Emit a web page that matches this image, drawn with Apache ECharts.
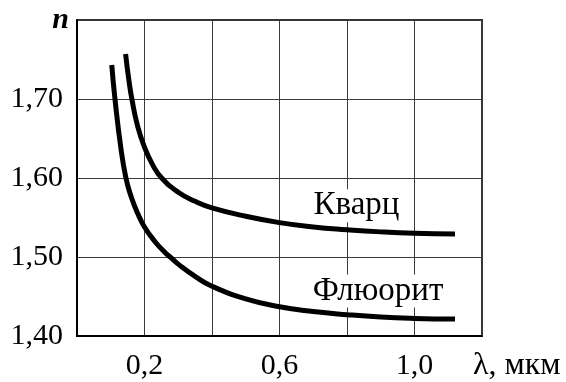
<!DOCTYPE html>
<html>
<head>
<meta charset="utf-8">
<script src="https://cdn.jsdelivr.net/npm/echarts@6/dist/echarts.min.js"></script>
<style>
  html, body { margin: 0; padding: 0; background: #fff; }
  #chart { width: 566px; height: 382px; }
</style>
</head>
<body>
<div id="chart"></div>
<script>
// Кварц
const quartzX = [0.144, 0.153, 0.163, 0.18, 0.2, 0.225, 0.251, 0.3, 0.35, 0.4, 0.5, 0.6, 0.7, 0.8, 0.9, 1.0, 1.12]
const quartzN = [1.757, 1.726, 1.699, 1.665, 1.639, 1.616, 1.600, 1.582, 1.5705, 1.5622, 1.5515, 1.5435, 1.538, 1.5345, 1.5318, 1.530, 1.529]
// Флюорит
const fluoriteX = [0.103, 0.113, 0.13, 0.145, 0.16, 0.18, 0.2, 0.23, 0.26, 0.28, 0.3, 0.35, 0.4, 0.5, 0.6, 0.7, 0.8, 0.9, 1.0, 1.12]
const fluoriteN = [1.743, 1.698, 1.638, 1.600, 1.577, 1.555, 1.538, 1.520, 1.506, 1.4985, 1.491, 1.4755, 1.463, 1.447, 1.437, 1.431, 1.427, 1.424, 1.4223, 1.4214]

const xLabels = [0.2, 0.6, 1.0]
const yLabels = [1.4, 1.5, 1.6, 1.7]
const seriesNames = ['Кварц', 'Флюорит']
const nameCoords = [[0.828, 1.565], [0.892, 1.457]]

const serif = '"Liberation Serif", "DejaVu Serif", serif'
const comma = (v, d) => v.toFixed(d).replace('.', ',')

const pairs = (xs, ys) => xs.map((x, i) => [x, ys[i]])

const chart = echarts.init(document.getElementById('chart'))

const curve = (name, data, coord) => ({
  name,
  type: 'line',
  data,
  smooth: 0.5,
  symbol: 'none',
  lineStyle: { color: '#000', width: 5 },
  z: 3,
  markPoint: {
    symbol: 'circle',
    symbolSize: 0,
    data: [{ coord }],
    label: {
      show: true,
      position: 'inside',
      formatter: name,
      color: '#000',
      fontFamily: serif,
      fontSize: 33,
      backgroundColor: '#fff',
      padding: [0, 3],
    },
  },
})

chart.setOption({
  backgroundColor: '#fff',
  animation: false,
  grid: {
    left: 77,
    top: 20,
    width: 405,
    height: 323,
    show: true,
    borderColor: '#333',
    borderWidth: 2,
    backgroundColor: 'transparent',
  },
  xAxis: {
    type: 'value',
    min: 0,
    max: 1.2,
    interval: 0.2,
    name: 'λ, мкм',
    nameLocation: 'end',
    nameGap: -9,
    nameTextStyle: {
      color: '#000',
      fontFamily: serif,
      fontSize: 32,
      align: 'left',
      verticalAlign: 'top',
      padding: [14, 0, 0, 0],
    },
    axisLine: { show: true, lineStyle: { color: '#000', width: 2 } },
    axisTick: { show: false },
    axisLabel: {
      margin: 15,
      color: '#000',
      fontFamily: serif,
      fontSize: 30,
      formatter: (v) => (xLabels.some((t) => Math.abs(t - v) < 1e-6) ? comma(v, 1) : ''),
    },
    splitLine: { show: true, lineStyle: { color: '#3a3a3a', width: 1 } },
  },
  yAxis: {
    type: 'value',
    min: 1.4,
    max: 1.8,
    interval: 0.1,
    name: 'n',
    nameLocation: 'end',
    nameGap: 0,
    nameTextStyle: {
      color: '#000',
      fontFamily: serif,
      fontSize: 30,
      fontStyle: 'italic',
      fontWeight: 'bold',
      align: 'right',
      verticalAlign: 'middle',
      padding: [0, 8, 6, 0],
    },
    axisLine: { show: true, lineStyle: { color: '#000', width: 2 } },
    axisTick: { show: false },
    axisLabel: {
      margin: 14,
      color: '#000',
      fontFamily: serif,
      fontSize: 30,
      formatter: (v) => (yLabels.some((t) => Math.abs(t - v) < 1e-6) ? comma(v, 2) : ''),
    },
    splitLine: { show: true, lineStyle: { color: '#3a3a3a', width: 1 } },
  },
  series: [
    curve(seriesNames[0], pairs(quartzX, quartzN), nameCoords[0]),
    curve(seriesNames[1], pairs(fluoriteX, fluoriteN), nameCoords[1]),
  ],
})

window.addEventListener('resize', () => {
  chart.resize()
})
</script>
</body>
</html>
